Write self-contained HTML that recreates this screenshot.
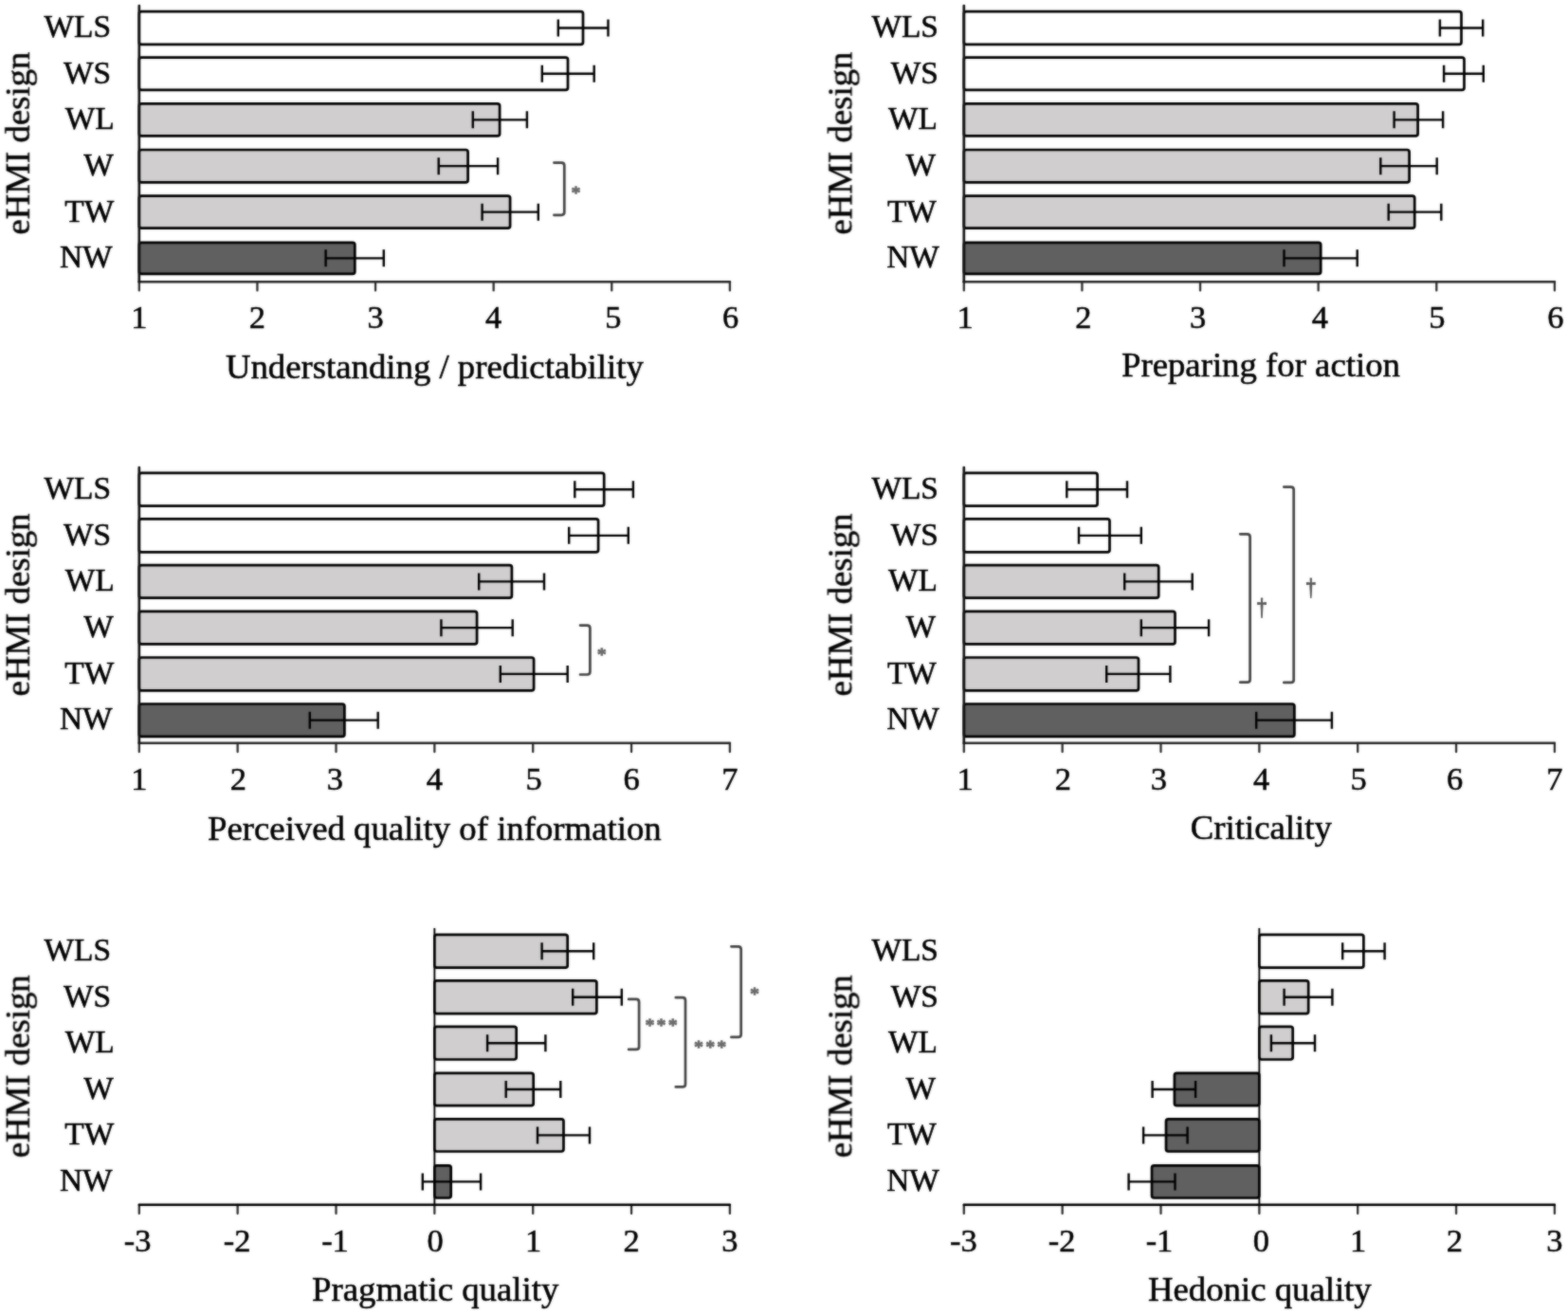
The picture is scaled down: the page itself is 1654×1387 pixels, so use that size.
<!DOCTYPE html>
<html lang="en"><head><meta charset="utf-8">
<title>eHMI design ratings</title>
<style>
html,body{margin:0;padding:0;background:#fff;}
body{width:1654px;height:1387px;overflow:hidden;}
svg{display:block;}
text{font-family:"Liberation Serif","Times New Roman",Times,serif;fill:#000000;stroke:#000000;stroke-width:0.55px;}
.tk{font-size:34.4px;}
.ct{font-size:33.4px;font-kerning:none;}
.tt{font-size:36.75px;}
.an{font-size:24px;fill:#6c6c6c;stroke:#6c6c6c;stroke-width:1.3px;stroke-linejoin:round;}
.dg{fill:#585858;stroke:#585858;stroke-width:1.1px;}
.st{font-size:19px;letter-spacing:2.6px;}
.ax{fill:none;stroke-linecap:round;stroke-linejoin:round;}
.er{stroke:#000000;stroke-width:2.4;fill:none;}
.br{stroke:#444444;stroke-width:2.7;fill:none;stroke-linejoin:round;stroke-linecap:round;}
.b{stroke:#000000;stroke-width:2.7;stroke-linejoin:round;}
</style></head><body>
<svg width="1654" height="1387" viewBox="0 0 1654 1387">
<rect x="0" y="0" width="1654" height="1387" fill="#ffffff"/>
<defs><filter id="soft" x="0" y="0" width="1654" height="1387" filterUnits="userSpaceOnUse" color-interpolation-filters="sRGB"><feGaussianBlur in="SourceGraphic" stdDeviation="1" result="b"/><feComposite in="SourceGraphic" in2="b" operator="arithmetic" k1="0" k2="0.45" k3="0.55" k4="0"/></filter></defs>
<g filter="url(#soft)">
<g>
<path class="ax" stroke="#2e2e2e" stroke-width="2.3" d="M146.8 297.2V306.4M271.42 297.2V306.4M396.04 297.2V306.4M520.66 297.2V306.4M645.28 297.2V306.4M769.9 297.2V306.4"/>
<path class="ax" stroke="#262626" stroke-width="2.4" d="M146.8 297.2H769.9"/>
<rect class="b" x="146.8" y="12.1" width="468.2" height="34.8" rx="2.4" fill="#ffffff"/>
<rect class="b" x="146.8" y="60.6" width="452.2" height="34.2" rx="2.4" fill="#ffffff"/>
<rect class="b" x="146.8" y="109.4" width="380.3" height="33.9" rx="2.4" fill="#d0cece"/>
<rect class="b" x="146.8" y="158" width="346.8" height="34.3" rx="2.4" fill="#d0cece"/>
<rect class="b" x="146.8" y="206.6" width="391.3" height="34.1" rx="2.4" fill="#d0cece"/>
<rect class="b" x="146.8" y="255.9" width="227.5" height="32.9" rx="2.4" fill="#606060"/>
<path class="ax" stroke="#141414" stroke-width="2.7" d="M146.8 6V297.2"/>
<path class="er" d="M588.8 29.5H641.5M588.8 20.5V38.5M641.5 20.5V38.5M571.8 77.7H626.7M571.8 68.7V86.7M626.7 68.7V86.7M498.8 126.35H555.9M498.8 117.35V135.35M555.9 117.35V135.35M462.7 175.15H525.1M462.7 166.15V184.15M525.1 166.15V184.15M508.6 223.65H567.8M508.6 214.65V232.65M567.8 214.65V232.65M343.6 272.35H404.8M343.6 263.35V281.35M404.8 263.35V281.35"/>
<path class="br" d="M584.4 171.6H592.3Q595.3 171.6 595.3 174.6V223.8Q595.3 226.8 592.3 226.8H584.4"/>
<text class="an st" x="608.7" y="209.63" text-anchor="middle">*</text>
<text class="ct" x="117" y="39.4" text-anchor="end">WLS</text>
<text class="ct" x="117" y="87.6" text-anchor="end">WS</text>
<text class="ct" x="120.6" y="136.25" text-anchor="end">WL</text>
<text class="ct" x="119.7" y="185.05" text-anchor="end">W</text>
<text class="ct" x="120.2" y="233.55" text-anchor="end">TW</text>
<text class="ct" x="118.6" y="281.55" text-anchor="end">NW</text>
<text class="tk" x="146.8" y="346" text-anchor="middle">1</text>
<text class="tk" x="271.42" y="346" text-anchor="middle">2</text>
<text class="tk" x="396.04" y="346" text-anchor="middle">3</text>
<text class="tk" x="520.66" y="346" text-anchor="middle">4</text>
<text class="tk" x="646.88" y="346" text-anchor="middle">5</text>
<text class="tk" x="770.6" y="346" text-anchor="middle">6</text>
<text class="tt" x="458.35" y="399.1" text-anchor="middle">Understanding / predictability</text>
<text class="tt" transform="translate(30.8 151.1) rotate(-90)" text-anchor="middle">eHMI design</text>
</g>
<g>
<path class="ax" stroke="#2e2e2e" stroke-width="2.3" d="M1016.8 297.2V306.4M1141.42 297.2V306.4M1266.04 297.2V306.4M1390.66 297.2V306.4M1515.28 297.2V306.4M1639.9 297.2V306.4"/>
<path class="ax" stroke="#262626" stroke-width="2.4" d="M1016.8 297.2H1639.9"/>
<rect class="b" x="1016.8" y="12.1" width="524.7" height="34.8" rx="2.4" fill="#ffffff"/>
<rect class="b" x="1016.8" y="60.6" width="527.7" height="34.2" rx="2.4" fill="#ffffff"/>
<rect class="b" x="1016.8" y="109.4" width="478.8" height="33.9" rx="2.4" fill="#d0cece"/>
<rect class="b" x="1016.8" y="158" width="469.8" height="34.3" rx="2.4" fill="#d0cece"/>
<rect class="b" x="1016.8" y="206.6" width="475.4" height="34.1" rx="2.4" fill="#d0cece"/>
<rect class="b" x="1016.8" y="255.9" width="376.4" height="32.9" rx="2.4" fill="#606060"/>
<path class="ax" stroke="#141414" stroke-width="2.7" d="M1016.8 6V297.2"/>
<path class="er" d="M1518.9 29.5H1564.2M1518.9 20.5V38.5M1564.2 20.5V38.5M1523.1 77.7H1564.8M1523.1 68.7V86.7M1564.8 68.7V86.7M1470.6 126.35H1522.1M1470.6 117.35V135.35M1522.1 117.35V135.35M1456.3 175.15H1515.7M1456.3 166.15V184.15M1515.7 166.15V184.15M1464.7 223.65H1520.3M1464.7 214.65V232.65M1520.3 214.65V232.65M1354.5 272.35H1431.7M1354.5 263.35V281.35M1431.7 263.35V281.35"/>
<text class="ct" x="989.9" y="39.4" text-anchor="end">WLS</text>
<text class="ct" x="989.9" y="87.6" text-anchor="end">WS</text>
<text class="ct" x="988.9" y="136.25" text-anchor="end">WL</text>
<text class="ct" x="987.1" y="185.05" text-anchor="end">W</text>
<text class="ct" x="987.9" y="233.55" text-anchor="end">TW</text>
<text class="ct" x="990.9" y="281.55" text-anchor="end">NW</text>
<text class="tk" x="1018.2" y="346" text-anchor="middle">1</text>
<text class="tk" x="1142.82" y="346" text-anchor="middle">2</text>
<text class="tk" x="1263.64" y="346" text-anchor="middle">3</text>
<text class="tk" x="1392.36" y="346" text-anchor="middle">4</text>
<text class="tk" x="1515.88" y="346" text-anchor="middle">5</text>
<text class="tk" x="1640.9" y="346" text-anchor="middle">6</text>
<text class="tt" x="1329.95" y="397.4" text-anchor="middle">Preparing for action</text>
<text class="tt" transform="translate(898.4 151.1) rotate(-90)" text-anchor="middle">eHMI design</text>
</g>
<g>
<path class="ax" stroke="#2e2e2e" stroke-width="2.3" d="M146.8 783.8V793M250.65 783.8V793M354.5 783.8V793M458.35 783.8V793M562.2 783.8V793M666.05 783.8V793M769.9 783.8V793"/>
<path class="ax" stroke="#262626" stroke-width="2.4" d="M146.8 783.8H769.9"/>
<rect class="b" x="146.8" y="498.9" width="490.4" height="34.8" rx="2.4" fill="#ffffff"/>
<rect class="b" x="146.8" y="547.4" width="484.3" height="34.9" rx="2.4" fill="#ffffff"/>
<rect class="b" x="146.8" y="596.2" width="393.1" height="34.4" rx="2.4" fill="#d0cece"/>
<rect class="b" x="146.8" y="644.9" width="356.3" height="34.5" rx="2.4" fill="#d0cece"/>
<rect class="b" x="146.8" y="693.5" width="416.3" height="34.8" rx="2.4" fill="#d0cece"/>
<rect class="b" x="146.8" y="742.5" width="216.6" height="34.3" rx="2.4" fill="#606060"/>
<path class="ax" stroke="#141414" stroke-width="2.7" d="M146.8 493V783.8"/>
<path class="er" d="M606.3 516.3H667.9M606.3 507.3V525.3M667.9 507.3V525.3M600.2 564.85H662.8M600.2 555.85V573.85M662.8 555.85V573.85M505.2 613.4H574M505.2 604.4V622.4M574 604.4V622.4M465.4 662.15H540.7M465.4 653.15V671.15M540.7 653.15V671.15M527.8 710.9H598.7M527.8 701.9V719.9M598.7 701.9V719.9M326.8 759.65H398.7M326.8 750.65V768.65M398.7 750.65V768.65"/>
<path class="br" d="M612 659.6H619.4Q622.4 659.6 622.4 662.6V708.5Q622.4 711.5 619.4 711.5H612"/>
<text class="an st" x="636" y="697.13" text-anchor="middle">*</text>
<text class="ct" x="117" y="526.2" text-anchor="end">WLS</text>
<text class="ct" x="117" y="574.75" text-anchor="end">WS</text>
<text class="ct" x="120.6" y="623.3" text-anchor="end">WL</text>
<text class="ct" x="119.7" y="672.05" text-anchor="end">W</text>
<text class="ct" x="120.2" y="720.8" text-anchor="end">TW</text>
<text class="ct" x="118.6" y="768.85" text-anchor="end">NW</text>
<text class="tk" x="146.8" y="832.6" text-anchor="middle">1</text>
<text class="tk" x="251.45" y="832.6" text-anchor="middle">2</text>
<text class="tk" x="353.3" y="832.6" text-anchor="middle">3</text>
<text class="tk" x="458.35" y="832.6" text-anchor="middle">4</text>
<text class="tk" x="563" y="832.6" text-anchor="middle">5</text>
<text class="tk" x="666.05" y="832.6" text-anchor="middle">6</text>
<text class="tk" x="769.9" y="832.6" text-anchor="middle">7</text>
<text class="tt" x="458.35" y="885.5" text-anchor="middle">Perceived quality of information</text>
<text class="tt" transform="translate(30.8 637.9) rotate(-90)" text-anchor="middle">eHMI design</text>
</g>
<g>
<path class="ax" stroke="#2e2e2e" stroke-width="2.3" d="M1016.8 783.8V793M1120.65 783.8V793M1224.5 783.8V793M1328.35 783.8V793M1432.2 783.8V793M1536.05 783.8V793M1639.9 783.8V793"/>
<path class="ax" stroke="#262626" stroke-width="2.4" d="M1016.8 783.8H1639.9"/>
<rect class="b" x="1016.8" y="498.9" width="140.8" height="34.8" rx="2.4" fill="#ffffff"/>
<rect class="b" x="1016.8" y="547.4" width="153.7" height="34.9" rx="2.4" fill="#ffffff"/>
<rect class="b" x="1016.8" y="596.2" width="205.4" height="34.4" rx="2.4" fill="#d0cece"/>
<rect class="b" x="1016.8" y="644.9" width="222.7" height="34.5" rx="2.4" fill="#d0cece"/>
<rect class="b" x="1016.8" y="693.5" width="184.2" height="34.8" rx="2.4" fill="#d0cece"/>
<rect class="b" x="1016.8" y="742.5" width="348.6" height="34.3" rx="2.4" fill="#606060"/>
<path class="ax" stroke="#141414" stroke-width="2.7" d="M1016.8 493V783.8"/>
<path class="er" d="M1125.3 516.3H1189M1125.3 507.3V525.3M1189 507.3V525.3M1138 564.85H1203.8M1138 555.85V573.85M1203.8 555.85V573.85M1186.2 613.4H1257.7M1186.2 604.4V622.4M1257.7 604.4V622.4M1203.8 662.15H1275.1M1203.8 653.15V671.15M1275.1 653.15V671.15M1167.2 710.9H1234.4M1167.2 701.9V719.9M1234.4 701.9V719.9M1325.2 759.65H1404.9M1325.2 750.65V768.65M1404.9 750.65V768.65"/>
<path class="br" d="M1308.2 563.3H1315.6Q1318.6 563.3 1318.6 566.3V716.7Q1318.6 719.7 1315.6 719.7H1308.2"/>
<text class="an dg" transform="translate(1331 642.2) scale(0.84 1.03)" x="0" y="5.76" text-anchor="middle">†</text>
<path class="br" d="M1354.3 513.6H1361.7Q1364.7 513.6 1364.7 516.6V716.9Q1364.7 719.9 1361.7 719.9H1354.3"/>
<text class="an dg" transform="translate(1382.7 621.2) scale(0.84 1.03)" x="0" y="5.76" text-anchor="middle">†</text>
<text class="ct" x="989.9" y="526.2" text-anchor="end">WLS</text>
<text class="ct" x="989.9" y="574.75" text-anchor="end">WS</text>
<text class="ct" x="988.9" y="623.3" text-anchor="end">WL</text>
<text class="ct" x="987.1" y="672.05" text-anchor="end">W</text>
<text class="ct" x="987.9" y="720.8" text-anchor="end">TW</text>
<text class="ct" x="990.9" y="768.85" text-anchor="end">NW</text>
<text class="tk" x="1018.2" y="832.6" text-anchor="middle">1</text>
<text class="tk" x="1121.25" y="832.6" text-anchor="middle">2</text>
<text class="tk" x="1222.3" y="832.6" text-anchor="middle">3</text>
<text class="tk" x="1330.55" y="832.6" text-anchor="middle">4</text>
<text class="tk" x="1433" y="832.6" text-anchor="middle">5</text>
<text class="tk" x="1534.65" y="832.6" text-anchor="middle">6</text>
<text class="tk" x="1639.9" y="832.6" text-anchor="middle">7</text>
<text class="tt" x="1330.35" y="885.3" text-anchor="middle">Criticality</text>
<text class="tt" transform="translate(898.4 637.9) rotate(-90)" text-anchor="middle">eHMI design</text>
</g>
<g>
<path class="ax" stroke="#000000" stroke-width="1.9" d="M458.35 979.6V1270.8"/>
<path class="ax" stroke="#2e2e2e" stroke-width="2.3" d="M146.8 1270.8V1280M250.65 1270.8V1280M354.5 1270.8V1280M458.35 1270.8V1280M562.2 1270.8V1280M666.05 1270.8V1280M769.9 1270.8V1280"/>
<path class="ax" stroke="#000000" stroke-width="2.4" d="M146.8 1270.8H769.9"/>
<rect class="b" x="458.35" y="985.8" width="140.35" height="34.8" rx="2.4" fill="#d0cece"/>
<rect class="b" x="458.35" y="1034.3" width="171.05" height="34.8" rx="2.4" fill="#d0cece"/>
<rect class="b" x="458.35" y="1082.9" width="86.35" height="34.6" rx="2.4" fill="#d0cece"/>
<rect class="b" x="458.35" y="1131.8" width="104.35" height="34.4" rx="2.4" fill="#d0cece"/>
<rect class="b" x="458.35" y="1180.3" width="136.15" height="34.2" rx="2.4" fill="#d0cece"/>
<rect class="b" x="458.35" y="1229.3" width="17.35" height="34.2" rx="2.4" fill="#606060"/>
<path class="er" d="M571.6 1003.2H626.2M571.6 994.2V1012.2M626.2 994.2V1012.2M604.2 1051.7H655.8M604.2 1042.7V1060.7M655.8 1042.7V1060.7M514.1 1100.2H575.4M514.1 1091.2V1109.2M575.4 1091.2V1109.2M533.7 1149H591.3M533.7 1140V1158M591.3 1140V1158M567 1197.4H622M567 1188.4V1206.4M622 1188.4V1206.4M445.8 1246.4H507.1M445.8 1237.4V1255.4M507.1 1237.4V1255.4"/>
<path class="br" d="M663.1 1053.9H671.1Q674.1 1053.9 674.1 1056.9V1103.9Q674.1 1106.9 671.1 1106.9H663.1"/>
<text class="an st" x="698.9" y="1088.23" text-anchor="middle">***</text>
<path class="br" d="M712.8 1052.2H720Q723 1052.2 723 1055.2V1143.4Q723 1146.4 720 1146.4H712.8"/>
<text class="an st" x="750.5" y="1111.13" text-anchor="middle">***</text>
<path class="br" d="M771.4 998.3H778.7Q781.7 998.3 781.7 1001.3V1090.9Q781.7 1093.9 778.7 1093.9H771.4"/>
<text class="an st" x="797.4" y="1054.83" text-anchor="middle">*</text>
<text class="ct" x="117" y="1013.1" text-anchor="end">WLS</text>
<text class="ct" x="117" y="1061.6" text-anchor="end">WS</text>
<text class="ct" x="120.6" y="1110.1" text-anchor="end">WL</text>
<text class="ct" x="119.7" y="1158.9" text-anchor="end">W</text>
<text class="ct" x="120.2" y="1207.3" text-anchor="end">TW</text>
<text class="ct" x="118.6" y="1255.6" text-anchor="end">NW</text>
<text class="tk" x="145.1" y="1319.6" text-anchor="middle">-3</text>
<text class="tk" x="250.15" y="1319.6" text-anchor="middle">-2</text>
<text class="tk" x="353.5" y="1319.6" text-anchor="middle">-1</text>
<text class="tk" x="459.05" y="1319.6" text-anchor="middle">0</text>
<text class="tk" x="562.7" y="1319.6" text-anchor="middle">1</text>
<text class="tk" x="666.05" y="1319.6" text-anchor="middle">2</text>
<text class="tk" x="769.9" y="1319.6" text-anchor="middle">3</text>
<text class="tt" x="459.15" y="1372.2" text-anchor="middle">Pragmatic quality</text>
<text class="tt" transform="translate(30.8 1124.7) rotate(-90)" text-anchor="middle">eHMI design</text>
</g>
<g>
<path class="ax" stroke="#000000" stroke-width="1.9" d="M1328.35 979.6V1270.8"/>
<path class="ax" stroke="#2e2e2e" stroke-width="2.3" d="M1016.8 1270.8V1280M1120.65 1270.8V1280M1224.5 1270.8V1280M1328.35 1270.8V1280M1432.2 1270.8V1280M1536.05 1270.8V1280M1639.9 1270.8V1280"/>
<path class="ax" stroke="#000000" stroke-width="2.4" d="M1016.8 1270.8H1639.9"/>
<rect class="b" x="1328.35" y="985.8" width="110.05" height="34.8" rx="2.4" fill="#ffffff"/>
<rect class="b" x="1328.35" y="1034.3" width="51.85" height="34.8" rx="2.4" fill="#d0cece"/>
<rect class="b" x="1328.35" y="1082.9" width="35.35" height="34.6" rx="2.4" fill="#d0cece"/>
<rect class="b" x="1238.9" y="1131.8" width="89.45" height="34.4" rx="2.4" fill="#606060"/>
<rect class="b" x="1230" y="1180.3" width="98.35" height="34.2" rx="2.4" fill="#606060"/>
<rect class="b" x="1215" y="1229.3" width="113.35" height="34.2" rx="2.4" fill="#606060"/>
<path class="er" d="M1416.2 1003.2H1460.6M1416.2 994.2V1012.2M1460.6 994.2V1012.2M1354.6 1051.7H1405.4M1354.6 1042.7V1060.7M1405.4 1042.7V1060.7M1340.9 1100.2H1387M1340.9 1091.2V1109.2M1387 1091.2V1109.2M1215.6 1149H1261.1M1215.6 1140V1158M1261.1 1140V1158M1206.1 1197.4H1252.6M1206.1 1188.4V1206.4M1252.6 1188.4V1206.4M1190.6 1246.4H1239.5M1190.6 1237.4V1255.4M1239.5 1237.4V1255.4"/>
<text class="ct" x="989.9" y="1013.1" text-anchor="end">WLS</text>
<text class="ct" x="989.9" y="1061.6" text-anchor="end">WS</text>
<text class="ct" x="988.9" y="1110.1" text-anchor="end">WL</text>
<text class="ct" x="987.1" y="1158.9" text-anchor="end">W</text>
<text class="ct" x="987.9" y="1207.3" text-anchor="end">TW</text>
<text class="ct" x="990.9" y="1255.6" text-anchor="end">NW</text>
<text class="tk" x="1016.3" y="1319.6" text-anchor="middle">-3</text>
<text class="tk" x="1120.15" y="1319.6" text-anchor="middle">-2</text>
<text class="tk" x="1223" y="1319.6" text-anchor="middle">-1</text>
<text class="tk" x="1330.35" y="1319.6" text-anchor="middle">0</text>
<text class="tk" x="1432.7" y="1319.6" text-anchor="middle">1</text>
<text class="tk" x="1534.45" y="1319.6" text-anchor="middle">2</text>
<text class="tk" x="1639.9" y="1319.6" text-anchor="middle">3</text>
<text class="tt" x="1328.85" y="1372.2" text-anchor="middle">Hedonic quality</text>
<text class="tt" transform="translate(898.4 1124.7) rotate(-90)" text-anchor="middle">eHMI design</text>
</g>
</g>
</svg>
</body></html>
